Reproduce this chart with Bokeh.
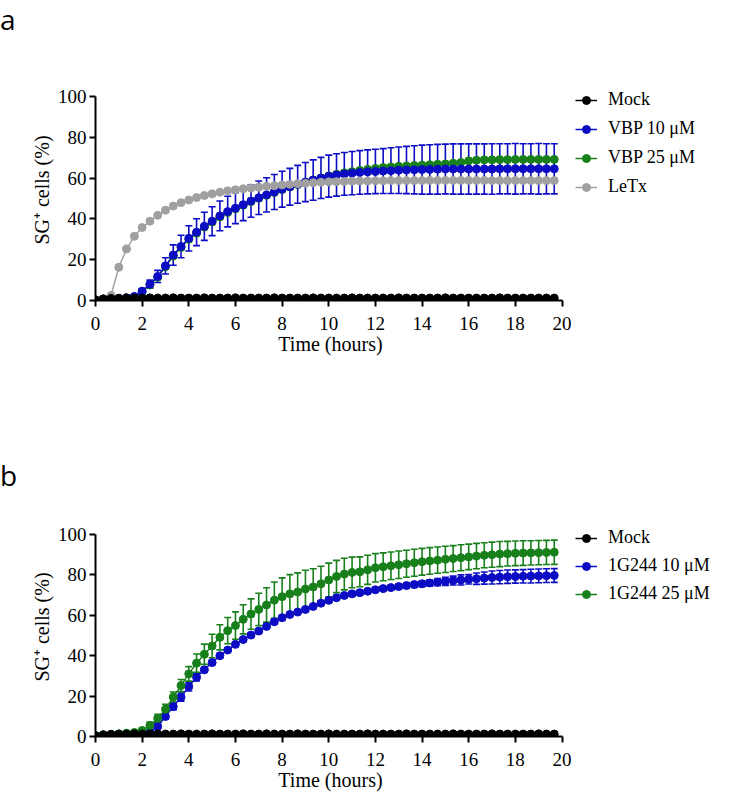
from bokeh.plotting import figure
from bokeh.models import (ColumnDataSource, Range1d, Legend, LegendItem, Whisker, TeeHead, Div)
from bokeh.layouts import column
from bokeh.embed import file_html
from bokeh.resources import INLINE

# ---------------- data ----------------
time_h = [round(k / 3, 3) for k in range(60)]  # 20-min sampling, 0 .. 19.67 h
x_ticks = [0, 2, 4, 6, 8, 10, 12, 14, 16, 18, 20]
y_ticks = [0, 20, 40, 60, 80, 100]

labels_a = ["Mock", "VBP 10 μM", "VBP 25 μM", "LeTx"]
labels_b = ["Mock", "1G244 10 μM", "1G244 25 μM"]

mock_a = [0.3, 0.8, 1.0, 1.1, 1.2, 1.2, 1.2, 1.3, 1.2, 1.2,
          1.3, 1.2, 1.2, 1.2, 1.3, 1.2, 1.2, 1.2, 1.3, 1.2,
          1.2, 1.2, 1.2, 1.3, 1.2, 1.2, 1.2, 1.2, 1.3, 1.2,
          1.2, 1.2, 1.2, 1.3, 1.2, 1.2, 1.2, 1.2, 1.2, 1.3,
          1.2, 1.2, 1.2, 1.2, 1.2, 1.3, 1.2, 1.2, 1.2, 1.2,
          1.2, 1.2, 1.3, 1.2, 1.2, 1.2, 1.2, 1.2, 1.2, 1.2]
vbp10_a = [0.3, 0.5, 0.8, 1.0, 1.3, 2.0, 4.6, 8.0, 11.8, 17.0,
           22.3, 26.5, 30.5, 33.5, 36.4, 38.9, 41.5, 43.6, 45.3, 47.0,
           48.8, 50.4, 51.8, 53.2, 54.6, 55.8, 57.0, 58.1, 59.1, 60.1,
           61.0, 61.6, 62.1, 62.5, 62.8, 63.1, 63.3, 63.5, 63.7, 63.9,
           64.0, 64.1, 64.2, 64.3, 64.4, 64.5, 64.5, 64.5, 64.5, 64.5,
           64.5, 64.5, 64.6, 64.6, 64.6, 64.6, 64.6, 64.6, 64.6, 64.6]
vbp10_sd_a = [0.2, 0.2, 0.2, 0.3, 0.3, 0.5, 1.2, 2.0, 3.0, 4.0,
              5.0, 5.5, 6.2, 6.6, 6.9, 7.1, 7.3, 7.5, 7.6, 7.8,
              8.0, 8.2, 8.4, 8.6, 8.8, 9.0, 9.3, 9.6, 9.9, 10.1,
              10.3, 10.4, 10.5, 10.6, 10.7, 10.8, 10.9, 11.0, 11.2, 11.4,
              11.6, 11.8, 12.0, 12.1, 12.2, 12.2, 12.3, 12.3, 12.3, 12.3,
              12.3, 12.4, 12.3, 12.3, 12.4, 12.3, 12.3, 12.4, 12.3, 12.3]
vbp25_a = [0.3, 0.4, 0.7, 0.9, 1.2, 1.8, 4.2, 7.6, 11.4, 16.6,
           21.8, 26.0, 30.0, 33.0, 36.0, 38.5, 41.0, 43.2, 45.0, 46.7,
           48.5, 50.1, 51.6, 53.0, 54.4, 55.7, 56.9, 58.0, 59.1, 60.1,
           61.1, 61.9, 62.6, 63.2, 63.8, 64.3, 64.8, 65.2, 65.5, 65.8,
           66.0, 66.2, 66.4, 66.6, 66.8, 67.0, 67.3, 67.7, 68.5, 68.8,
           69.0, 69.0, 69.1, 69.1, 69.2, 69.2, 69.2, 69.2, 69.2, 69.2]
letx_a = [0.3, 0.8, 2.5, 16.3, 25.3, 31.5, 35.8, 38.9, 41.8, 44.3,
          46.3, 48.0, 49.3, 50.5, 51.5, 52.3, 53.1, 53.8, 54.3, 54.8,
          55.2, 55.6, 56.0, 56.3, 56.7, 57.0, 57.3, 57.5, 57.8, 58.0,
          58.2, 58.3, 58.4, 58.5, 58.6, 58.6, 58.7, 58.7, 58.8, 58.8,
          58.8, 58.8, 58.8, 58.9, 58.9, 58.9, 58.9, 58.9, 58.9, 58.9,
          58.9, 58.8, 58.8, 58.8, 58.8, 58.8, 58.8, 58.8, 58.8, 58.8]

mock_b = [0.3, 0.9, 1.1, 1.2, 1.2, 1.3, 1.2, 1.2, 1.3, 1.2,
          1.2, 1.3, 1.2, 1.2, 1.2, 1.3, 1.2, 1.2, 1.2, 1.3,
          1.2, 1.2, 1.3, 1.2, 1.2, 1.2, 1.3, 1.2, 1.2, 1.2,
          1.3, 1.2, 1.2, 1.2, 1.2, 1.3, 1.2, 1.2, 1.2, 1.2,
          1.3, 1.2, 1.2, 1.2, 1.2, 1.2, 1.3, 1.2, 1.2, 1.2,
          1.2, 1.3, 1.2, 1.2, 1.2, 1.2, 1.2, 1.3, 1.2, 1.2]
g10_b = [0.3, 0.4, 0.5, 0.6, 0.7, 0.8, 1.0, 2.0, 5.0, 9.9,
         14.8, 19.5, 24.7, 29.3, 33.0, 36.6, 40.0, 42.8, 45.6, 48.0,
         50.2, 52.2, 54.5, 56.8, 58.8, 60.4, 61.6, 62.9, 64.4, 66.0,
         67.4, 68.7, 69.8, 70.6, 71.2, 71.9, 72.6, 73.2, 73.7, 74.2,
         74.7, 75.2, 75.6, 76.0, 76.4, 76.8, 77.2, 77.5, 77.8, 78.1,
         78.4, 78.7, 78.9, 79.1, 79.2, 79.3, 79.4, 79.5, 79.6, 79.7]
g10_sd_b = [0.2, 0.2, 0.2, 0.3, 0.3, 0.3, 0.4, 0.6, 1.0, 1.3,
            1.6, 2.0, 2.2, 1.8, 1.2, 1.0, 1.0, 0.9, 0.9, 0.9,
            0.9, 0.9, 0.9, 0.9, 1.0, 1.0, 1.0, 1.0, 1.0, 1.0,
            1.0, 1.0, 1.0, 1.1, 1.1, 1.1, 1.2, 1.2, 1.2, 1.3,
            1.3, 1.4, 1.5, 1.6, 1.8, 2.0, 2.2, 2.5, 2.3, 2.8,
            3.0, 3.2, 3.3, 3.3, 3.3, 3.3, 3.4, 3.4, 3.4, 3.4]
g25_b = [0.5, 0.8, 1.0, 1.3, 1.6, 2.0, 3.0, 5.5, 9.0, 13.5,
         19.5, 25.2, 31.0, 36.3, 40.7, 44.8, 49.1, 52.4, 54.9, 58.0,
         60.6, 62.9, 65.1, 67.5, 69.2, 70.6, 71.5, 73.0, 74.0, 75.6,
         77.5, 79.2, 80.4, 81.2, 81.5, 82.5, 83.5, 84.0, 84.5, 85.0,
         85.5, 86.0, 86.5, 86.9, 87.3, 87.7, 88.1, 88.5, 88.9, 89.3,
         89.7, 90.0, 90.3, 90.5, 90.7, 90.8, 90.9, 91.0, 91.1, 91.2]
g25_sd_b = [0.3, 0.3, 0.4, 0.4, 0.5, 0.5, 1.0, 1.5, 2.0, 2.5,
            2.5, 3.0, 3.6, 4.5, 5.0, 5.8, 6.2, 6.5, 6.8, 7.2,
            7.5, 8.0, 8.5, 9.0, 9.3, 9.5, 9.5, 9.3, 9.0, 8.7,
            8.3, 8.0, 7.8, 7.6, 7.4, 7.2, 7.0, 6.9, 6.8, 6.8,
            6.7, 6.7, 6.6, 6.6, 6.5, 6.5, 6.4, 6.4, 6.3, 6.3,
            6.2, 6.2, 6.2, 6.1, 6.1, 6.1, 6.0, 6.0, 6.0, 6.0]

# ---------------- style ----------------
BLACK = "#000000"
BLUE = "#0c0cc4"
GREEN = "#17801a"
GRAY = "#a0a0a0"
SERIF = "Liberation Serif"
LEFT = 95


def make_fig(top, height, frame_h):
    p = figure(frame_width=470, frame_height=frame_h,
               min_border_left=LEFT, min_border_right=160,
               min_border_top=top, min_border_bottom=height - top - frame_h,
               x_range=Range1d(0, 20.15), y_range=Range1d(0, 108.4),
               output_backend="svg", toolbar_location=None,
               background_fill_color="white", border_fill_color="white")
    p.outline_line_color = None
    p.grid.visible = False
    for ax in (p.xaxis[0], p.yaxis[0]):
        ax.axis_line_width = 2
        ax.axis_line_color = BLACK
        ax.major_tick_line_width = 2
        ax.major_tick_line_color = BLACK
        ax.major_tick_out = 6
        ax.major_tick_in = 0
        ax.minor_tick_line_color = None
        ax.major_label_text_font = SERIF
        ax.major_label_text_font_size = "19px"
        ax.major_label_text_color = BLACK
        ax.axis_label_text_font = SERIF
        ax.axis_label_text_font_size = "20px"
        ax.axis_label_text_font_style = "normal"
        ax.axis_label_text_color = BLACK
    p.xaxis[0].bounds = (x_ticks[0], x_ticks[-1])
    p.yaxis[0].bounds = (y_ticks[0], y_ticks[-1])
    p.xaxis[0].ticker = x_ticks
    p.yaxis[0].ticker = y_ticks
    p.xaxis[0].axis_label = "Time (hours)"
    p.yaxis[0].axis_label = "SG⁺ cells (%)"
    p.xaxis[0].major_label_standoff = 10
    p.yaxis[0].major_label_standoff = 3
    p.xaxis[0].axis_label_standoff = 0
    p.yaxis[0].axis_label_standoff = 2
    return p


def series(p, y, color, sd=None):
    src = ColumnDataSource(dict(t=time_h, y=y))
    if sd is not None:
        src.data["up"] = [a + b for a, b in zip(y, sd)]
        src.data["lo"] = [a - b for a, b in zip(y, sd)]
        w = Whisker(source=src, base="t", upper="up", lower="lo",
                    line_color=color, line_width=1.6, level="underlay",
                    upper_head=TeeHead(size=7, line_color=color, line_width=1.6),
                    lower_head=TeeHead(size=7, line_color=color, line_width=1.6))
        p.add_layout(w)
    lr = p.line("t", "y", source=src, line_color=color, line_width=1.5)
    sr = p.scatter("t", "y", source=src, marker="circle", size=8,
                   fill_color=color, line_color=color)
    return [lr, sr]


def add_legend(p, items, spacing):
    lg = Legend(items=items, location="top_left", orientation="vertical",
                label_text_font=SERIF, label_text_font_size="18px",
                label_text_color=BLACK, glyph_width=22, glyph_height=20,
                label_height=20, label_standoff=11, spacing=spacing, padding=0,
                margin=10, border_line_color=None, background_fill_alpha=0)
    p.add_layout(lg, "right")


def panel_tag(letter, top_margin, height, line_height):
    return Div(text=letter, width=40, height=height, margin=(top_margin, 0, 0, 0),
               styles={"font-family": "'Open Sans', sans-serif", "font-size": "28px",
                       "line-height": line_height, "color": "black"})


# ---------------- panel a ----------------
TOP_A, H_A, FH_A = 39, 348, 221
pa = make_fig(TOP_A, H_A, FH_A)
r_g = series(pa, vbp25_a, GREEN)
r_b = series(pa, vbp10_a, BLUE, vbp10_sd_a)
r_l = series(pa, letx_a, GRAY)
r_m = series(pa, mock_a, BLACK)
add_legend(pa, [LegendItem(label=labels_a[0], renderers=r_m),
                LegendItem(label=labels_a[1], renderers=r_b),
                LegendItem(label=labels_a[2], renderers=r_g),
                LegendItem(label=labels_a[3], renderers=r_l)], 8)

# ---------------- panel b ----------------
TOP_B, H_B, FH_B = 27, 309, 219
pb = make_fig(TOP_B, H_B, FH_B)
r_b10 = series(pb, g10_b, BLUE, g10_sd_b)
r_b25 = series(pb, g25_b, GREEN, g25_sd_b)
r_bm = series(pb, mock_b, BLACK)
add_legend(pb, [LegendItem(label=labels_b[0], renderers=r_bm),
                LegendItem(label=labels_b[1], renderers=r_b10),
                LegendItem(label=labels_b[2], renderers=r_b25)], 7)

layout = column(panel_tag("a", 0, 40, "39px"), pa,
                panel_tag("b", 72, 30, "30px"), pb, spacing=0)
open("out.html", "w").write(file_html(layout, INLINE))
